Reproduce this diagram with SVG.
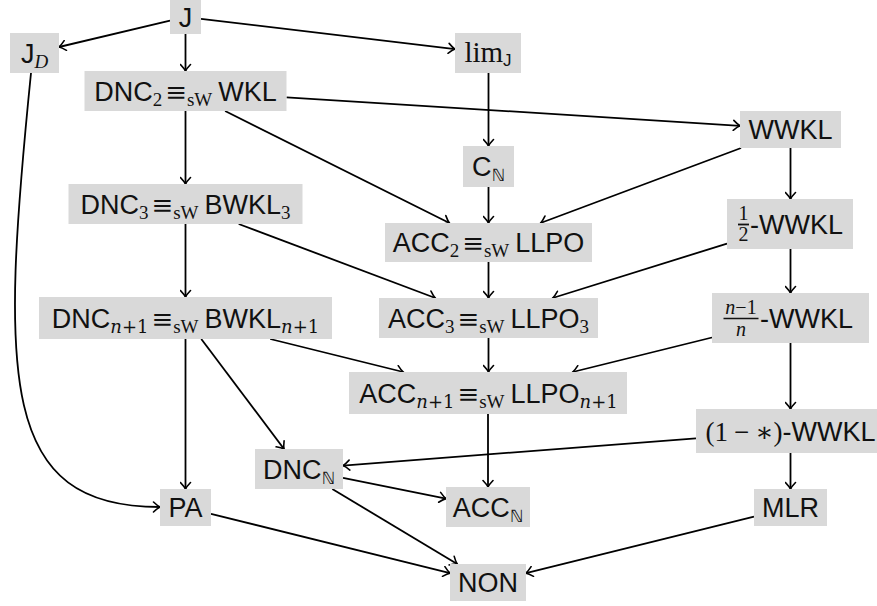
<svg xmlns="http://www.w3.org/2000/svg" width="877" height="606" viewBox="0 0 877 606">
<defs>
<marker id="arr" viewBox="-8 -6 10 12" refX="0" refY="0" markerWidth="10" markerHeight="12" orient="auto" markerUnits="userSpaceOnUse">
<path d="M-6.5 -5 Q-2.5 -1.2 0 0 Q-2.5 1.2 -6.5 5" fill="none" stroke="#000" stroke-width="1.6" stroke-linecap="round"/>
</marker>
<style>
.box{fill:#d9d9d9}
.s{font-family:"Liberation Sans",Arial,sans-serif;font-size:27px;fill:#111;text-anchor:middle}
.st{font-family:"Liberation Sans",Arial,sans-serif;font-size:27px;fill:#111}
.m{font-family:"Liberation Serif","DejaVu Serif",serif}
.eq{font-family:"DejaVu Serif",serif;font-size:26px}
.sub{font-size:19px}
.ns{font-family:"DejaVu Serif",serif;font-size:18px}
.fr{font-family:"Liberation Serif","DejaVu Serif",serif;font-size:20px;fill:#111;text-anchor:middle}
.i{font-style:italic}
.bb{font-family:"DejaVu Sans",sans-serif;font-size:17px}
.js{font-family:"Liberation Sans",Arial,sans-serif;font-size:17px}
#edges path{fill:none;stroke:#000;stroke-width:1.8;marker-end:url(#arr)}
</style>
</defs>
<g id="edges">
<path d="M170 20.7 L59 47"/>
<path d="M185.5 34 L185.5 71"/>
<path d="M201 18.8 L455 49.1"/>
<path d="M31 73 C0 380 0 507 160 507"/>
<path d="M185.5 111 L185.5 184"/>
<path d="M286.5 97.3 L740 125.8"/>
<path d="M225.1 111 L449.4 223"/>
<path d="M488.5 73 L488.5 146"/>
<path d="M488.5 187 L488.5 223"/>
<path d="M741.1 148 L540.6 223"/>
<path d="M790.5 148 L790.5 199"/>
<path d="M185.5 224 L185.5 297"/>
<path d="M238.7 224 L435.3 298"/>
<path d="M488.5 262 L488.5 298"/>
<path d="M727 243.6 L552.7 298"/>
<path d="M790.5 249 L790.5 293"/>
<path d="M488.5 338 L488.5 372"/>
<path d="M270.2 339 L403.3 372"/>
<path d="M712 337.5 L572.7 372"/>
<path d="M790.5 343 L790.5 409"/>
<path d="M488 414 L488 487"/>
<path d="M185.5 339 L185.5 489"/>
<path d="M201.3 339 L284 449"/>
<path d="M696 438.3 L343 465.6"/>
<path d="M790.5 453 L790.5 489"/>
<path d="M343 477.8 L446 498.6"/>
<path d="M332.3 489 L457.2 564"/>
<path d="M211 513.8 L450 573.1"/>
<path d="M754 516.6 L526 573.1"/>
</g>
<g id="J"><rect class="box" x="170" y="0" width="31" height="34"/><text class="s" x="185.5" y="26.5">J</text></g>
<g id="JD"><rect class="box" x="10" y="33" width="49" height="40"/><text class="s" x="34.5" y="62.5">J<tspan class="m i sub" dy="5">D</tspan></text></g>
<g id="limJ"><rect class="box" x="455" y="33" width="66" height="40"/><text class="s" x="488" y="62"><tspan class="m" font-size="29px">lim</tspan><tspan class="js" dy="4">J</tspan></text></g>
<g id="DNC2"><rect class="box" x="84.5" y="71" width="202" height="40"/><text class="s" x="185.5" y="100.5">DNC<tspan class="m sub" dy="5">2</tspan><tspan class="eq" dy="-5" dx="3">≡</tspan><tspan class="m sub" dy="5">sW</tspan><tspan dy="-5" dx="6">WKL</tspan></text></g>
<g id="WWKL"><rect class="box" x="740" y="111" width="101" height="37"/><text class="s" x="790.5" y="139">WWKL</text></g>
<g id="CN"><rect class="box" x="463" y="146" width="51" height="41"/><text class="s" x="488.5" y="175.5">C<tspan class="bb" dy="5">ℕ</tspan></text></g>
<g id="ACC2"><rect class="box" x="385" y="223" width="207" height="39"/><text class="s" x="488.5" y="252">ACC<tspan class="m sub" dy="5">2</tspan><tspan class="eq" dy="-5" dx="3">≡</tspan><tspan class="m sub" dy="5">sW</tspan><tspan dy="-5" dx="6">LLPO</tspan></text></g>
<g id="half"><rect class="box" x="727" y="199" width="126" height="50"/><text class="fr" x="743.5" y="220">1</text><line x1="738" y1="224.5" x2="749" y2="224.5" stroke="#111" stroke-width="1.8"/><text class="fr" x="743.5" y="241">2</text><text class="st" x="750" y="233.5">-WWKL</text></g>
<g id="DNC3"><rect class="box" x="68.5" y="184" width="234" height="40"/><text class="s" x="185.5" y="213.5">DNC<tspan class="m sub" dy="5">3</tspan><tspan class="eq" dy="-5" dx="3">≡</tspan><tspan class="m sub" dy="5">sW</tspan><tspan dy="-5" dx="6">BWKL</tspan><tspan class="m sub" dy="5">3</tspan></text></g>
<g id="ACC3"><rect class="box" x="379" y="298" width="219" height="40"/><text class="s" x="488.5" y="327.5">ACC<tspan class="m sub" dy="5">3</tspan><tspan class="eq" dy="-5" dx="3">≡</tspan><tspan class="m sub" dy="5">sW</tspan><tspan dy="-5" dx="6">LLPO</tspan><tspan class="m sub" dy="5">3</tspan></text></g>
<g id="nfrac"><rect class="box" x="712" y="293" width="157" height="50"/><text class="fr" x="741" y="314"><tspan class="i">n</tspan>−1</text><line x1="723.5" y1="318.5" x2="758.5" y2="318.5" stroke="#111" stroke-width="1.4"/><text class="fr i" x="741" y="336">n</text><text class="st" x="760" y="327.5">-WWKL</text></g>
<g id="DNCn1"><rect class="box" x="39" y="297" width="293" height="42"/><text class="s" x="185.5" y="327.5">DNC<tspan class="ns i" dy="5">n</tspan><tspan class="ns">+1</tspan><tspan class="eq" dy="-5" dx="3">≡</tspan><tspan class="m sub" dy="5">sW</tspan><tspan dy="-5" dx="6">BWKL</tspan><tspan class="ns i" dy="5">n</tspan><tspan class="ns">+1</tspan></text></g>
<g id="ACCn1"><rect class="box" x="349" y="372" width="278" height="42"/><text class="s" x="488.5" y="402.5">ACC<tspan class="ns i" dy="5">n</tspan><tspan class="ns">+1</tspan><tspan class="eq" dy="-5" dx="3">≡</tspan><tspan class="m sub" dy="5">sW</tspan><tspan dy="-5" dx="6">LLPO</tspan><tspan class="ns i" dy="5">n</tspan><tspan class="ns">+1</tspan></text></g>
<g id="onestar"><rect class="box" x="696" y="409" width="190" height="44"/><text class="s" x="790.5" y="440.5"><tspan class="m">(1</tspan><tspan class="m" dx="6">−</tspan><tspan class="m" dx="6">∗)</tspan>-WWKL</text></g>
<g id="DNCN"><rect class="box" x="255" y="449" width="88" height="40"/><text class="s" x="299" y="478.5">DNC<tspan class="bb" dy="5">ℕ</tspan></text></g>
<g id="PA"><rect class="box" x="160" y="489" width="51" height="37"/><text class="s" x="185.5" y="517">PA</text></g>
<g id="ACCN"><rect class="box" x="446" y="487" width="84" height="40"/><text class="s" x="488" y="516.5">ACC<tspan class="bb" dy="5">ℕ</tspan></text></g>
<g id="MLR"><rect class="box" x="754" y="489" width="73" height="37"/><text class="s" x="790.5" y="517">MLR</text></g>
<g id="NON"><rect class="box" x="450" y="564" width="76" height="37"/><text class="s" x="488" y="592">NON</text></g>
</svg>
